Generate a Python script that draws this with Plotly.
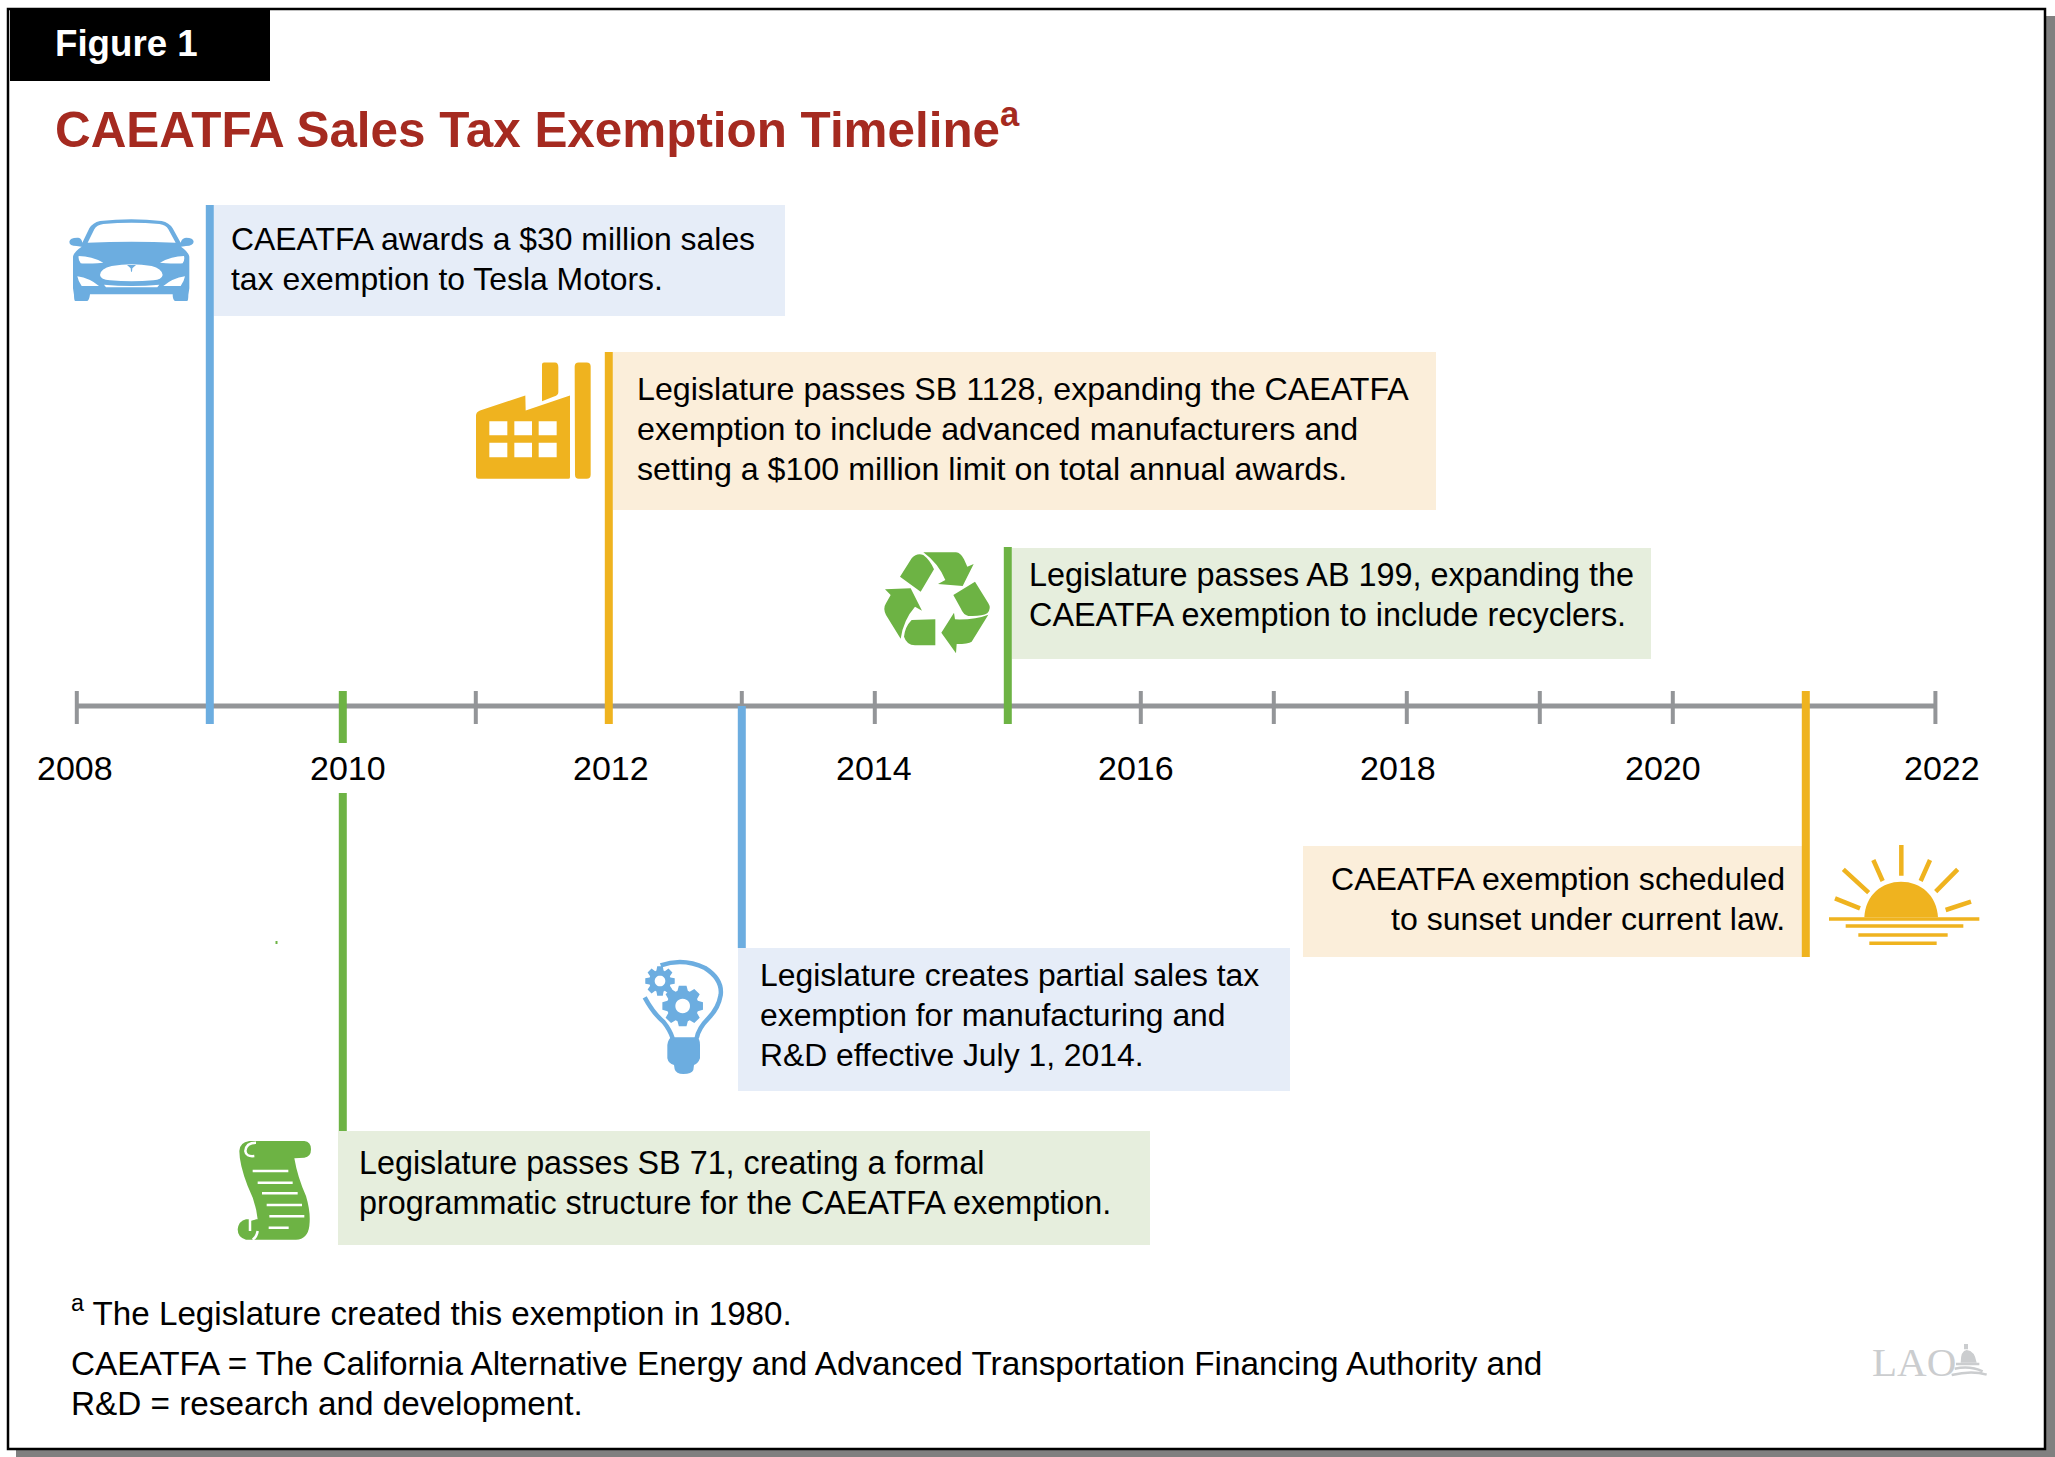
import math
import re
import plotly.graph_objects as go

# chart data
axis_years = [2008, 2009, 2010, 2011, 2012, 2013, 2014, 2015, 2016, 2017, 2018, 2019, 2020, 2021, 2022]
label_years = [2008, 2010, 2012, 2014, 2016, 2018, 2020, 2022]
event_years = [2009, 2010, 2012, 2013, 2015, 2021]
event_texts = [
    ["CAEATFA awards a $30 million sales", "tax exemption to Tesla Motors."],
    ["Legislature passes SB 71, creating a formal", "programmatic structure for the CAEATFA exemption."],
    ["Legislature passes SB 1128, expanding the CAEATFA", "exemption to include advanced manufacturers and",
     "setting a $100 million limit on total annual awards."],
    ["Legislature creates partial sales tax", "exemption for manufacturing and", "R&D effective July 1, 2014."],
    ["Legislature passes AB 199, expanding the", "CAEATFA exemption to include recyclers."],
    ["CAEATFA exemption scheduled", "to sunset under current law."],
]
figure_label = "Figure 1"
title_text = "CAEATFA Sales Tax Exemption Timeline<sup>a</sup>"
note_texts = [
    "<sup>a</sup> The Legislature created this exemption in 1980.",
    "CAEATFA = The California Alternative Energy and Advanced Transportation Financing Authority and",
    "R&D = research and development.",
]

W, H = 2055, 1457
X_2008, PER_YEAR = 76.8, 133.0
AXIS_Y = 706
LINE_STEP = 40
FONT = "Liberation Sans"
BLUE, ORANGE, GREEN = "#6CADE0", "#EFB31F", "#6DB344"
PALE_BLUE, PALE_ORANGE, PALE_GREEN = "#E6EDF8", "#FBEEDA", "#E6EEDD"
GREY = "#939598"
LOGO_GREY = "#CBCDCF"


def px(x):
    """Pixel column to the year axis."""
    return 2008 + (x - X_2008) / PER_YEAR


# colour, line segments, box (x0, y0, x1, y1), text anchor, text x, text centre y, font size
event_layout = [
    (BLUE, [(205, 724)], PALE_BLUE, (214, 205, 785, 316), "left", 231, 258.5, 31.9),
    (GREEN, [(691, 743), (793, 1131)], PALE_GREEN, (338, 1131, 1150, 1245), "left", 359, 1183, 32.35),
    (ORANGE, [(352, 724)], PALE_ORANGE, (613, 352, 1436, 510), "left", 637, 428.5, 32.2),
    (BLUE, [(706, 948)], PALE_BLUE, (738, 948, 1290, 1091), "left", 760, 1014.5, 31.85),
    (GREEN, [(547, 724)], PALE_GREEN, (1012, 548, 1651, 659), "left", 1029, 595, 32.4),
    (ORANGE, [(691, 957)], PALE_ORANGE, (1303, 846, 1802, 957), "right", 1785, 898.5, 32.1),
]
label_shift = [-1.8, 5, 2.5, -1, -5, -8.5, -9.5, 3.5]
tick_nudge = {2022: -3.4}


def place(path, ox, oy, k=1 / 3):
    """Move an icon drawn in 3x crop units to its spot on the page."""
    count = [0]

    def repl(m):
        v = float(m.group())
        i = count[0]
        count[0] += 1
        if i % 2 == 0:
            return f"{px(ox + v * k):.5f}"
        return f"{oy + v * k:.2f}"

    return re.sub(r"-?\d+\.?\d*", repl, path)


def gear(cx, cy, r_out, r_in, hole, teeth):
    pts = []
    step = 2 * math.pi / teeth
    for i in range(teeth):
        a = i * step
        for da, r in [(-0.30, r_in), (-0.17, r_out), (0.17, r_out), (0.30, r_in)]:
            pts.append((cx + r * math.cos(a + da * step * 1.4), cy + r * math.sin(a + da * step * 1.4)))
    d = "M " + " L ".join(f"{x:.1f} {y:.1f}" for x, y in pts) + " Z "
    ring = [(cx + hole * math.cos(i * math.pi / 12), cy + hole * math.sin(i * math.pi / 12)) for i in range(24)]
    d += "M " + " L ".join(f"{x:.1f} {y:.1f}" for x, y in ring) + " Z"
    return d


CAR = (
    "M 75 303 Q 72 300 72 285 L 69 265 L 69 170 Q 72 155 95 140 L 80 138 Q 58 138 58 125 Q 60 112 85 113 "
    "Q 95 115 97 128 L 118 85 Q 128 68 150 63 Q 245 53 335 63 Q 358 68 368 85 L 392 128 Q 395 115 408 113 "
    "Q 430 113 431 125 Q 430 137 408 138 L 393 140 Q 415 155 418 170 L 418 265 L 415 285 Q 415 300 412 303 "
    "L 375 303 Q 368 300 368 283 L 120 283 Q 118 300 112 303 Z "
    "M 113 128 L 133 88 Q 140 75 160 72 Q 245 65 328 72 Q 348 75 355 88 L 377 128 Q 245 122 113 128 Z "
    "M 86 168 Q 125 168 160 188 Q 105 192 92 190 Q 84 180 86 168 Z "
    "M 402 168 Q 365 168 330 188 Q 385 192 398 190 Q 405 180 402 168 Z "
    "M 150 225 Q 152 205 185 198 Q 245 188 305 198 Q 335 205 338 225 Q 335 240 310 241 Q 245 247 180 241 Q 152 240 150 225 Z "
    "M 231 195 L 258 195 L 247 205 L 246 215 L 243 215 L 242 205 Z "
    "M 82 229 Q 120 235 147 258 L 95 258 Q 85 245 82 229 Z "
    "M 405 229 Q 367 235 340 258 L 392 258 Q 402 245 405 229 Z "
    "M 162 254 Q 245 262 328 254 L 322 262 L 168 262 Z"
)
FACTORY = (
    "M 48 195 Q 48 185 60 180 L 196 135 L 197 180 L 330 135 L 330 380 Q 330 385 325 385 L 55 385 Q 48 385 48 378 Z "
    "M 88 212 L 142 212 L 142 254 L 88 254 Z M 163 212 L 216 212 L 216 254 L 163 254 Z M 236 212 L 290 212 L 290 254 L 236 254 Z "
    "M 88 277 L 142 277 L 142 320 L 88 320 Z M 163 277 L 216 277 L 216 320 L 163 320 Z M 236 277 L 290 277 L 290 320 L 236 320 Z "
    "M 246 42 Q 246 36 252 36 L 285 36 Q 295 36 295 50 L 295 125 Q 295 135 280 139 L 246 152 Z "
    "M 344 48 Q 344 36 356 36 L 380 36 Q 392 36 392 48 L 392 372 Q 392 385 380 385 L 356 385 Q 345 385 345 372 Z"
)
RECYCLE = (
    "M 90 110 L 125 55 Q 140 38 160 45 Q 180 60 192 88 L 152 155 Z "
    "M 160 37 L 258 37 Q 272 38 282 58 L 292 80 L 311 72 L 278 138 L 204 132 L 226 120 Q 205 70 160 37 Z "
    "M 250 165 L 315 125 L 355 190 Q 365 205 352 220 Q 335 230 295 228 Q 280 225 272 205 Z "
    "M 355 224 L 305 305 Q 295 312 260 312 L 258 340 L 214 278 L 252 218 L 255 238 Q 315 240 355 224 Z "
    "M 196 238 L 196 316 L 135 316 Q 110 315 102 290 Q 105 260 125 240 Z "
    "M 92 296 L 48 225 Q 38 205 48 190 L 62 165 L 45 148 L 122 145 L 156 212 L 135 200 Q 100 240 92 296 Z"
)
BULB_BASE = (
    "M 112 285 Q 115 265 125 262 L 200 262 Q 210 265 210 285 L 210 325 Q 205 340 192 345 L 190 360 "
    "Q 185 372 160 372 Q 138 372 134 358 L 132 345 Q 115 340 112 325 Z"
)
BULB_GLASS = (
    "M 92 46 Q 160 22 225 54 Q 278 88 272 135 Q 265 175 235 205 Q 205 235 200 265 "
    "M 44 142 Q 70 190 100 215 Q 120 240 128 265"
)
SCROLL = (
    "M 40 60 Q 40 35 70 30 L 235 30 Q 255 32 255 55 Q 255 78 235 80 L 205 82 Q 215 140 240 195 "
    "Q 255 245 250 285 Q 245 325 210 326 L 60 326 Q 35 320 35 295 Q 38 270 60 265 L 95 265 "
    "Q 90 215 65 165 Q 40 100 40 60 Z"
)
SCROLL_CUTS = (
    "M 80 120 L 187 120 M 95 155 L 200 155 M 108 187 L 215 187 M 122 222 L 228 222 M 130 256 L 235 256 M 128 290 L 188 290 "
    "M 90 35 Q 60 35 58 60 Q 60 78 85 75 M 88 262 L 72 266 L 72 300 M 95 300 Q 92 318 80 326"
)
SUN_DISC = "M 133 262 C 136 195 185 155 243 155 C 302 155 350 195 354 262 Z"
SUN_RAYS = (
    "M 244 45 L 244 137 M 160 90 L 188 153 M 70 118 L 146 188 M 45 205 L 120 235 "
    "M 330 90 L 302 153 M 413 118 L 347 185 M 453 215 L 377 240"
)
SUN_WATER = "M 27 267 L 478 267 M 77 288 L 430 288 M 115 315 L 383 315 M 148 340 L 350 340"
DOME = "M 342 72 L 354 72 L 354 88 L 342 88 Z M 332 128 Q 332 92 350 90 Q 374 92 380 128 Z"
DOME_LINES = "M 305 165 Q 365 150 410 164 M 314 146 Q 360 136 398 154 M 318 132 L 388 132"

shapes = []


def rect(x0, y0, x1, y1, fill, line_color=None, line_width=0):
    shapes.append(dict(type="rect", xref="x", yref="y", x0=px(x0), x1=px(x1), y0=y0, y1=y1,
                       fillcolor=fill, layer="below",
                       line=dict(color=line_color or fill, width=line_width)))


def icon(path, ox, oy, color):
    shapes.append(dict(type="path", xref="x", yref="y", path=place(path, ox, oy), fillcolor=color,
                       fillrule="evenodd", line=dict(width=0)))


def strokes(path, ox, oy, color, width):
    shapes.append(dict(type="path", xref="x", yref="y", path=place(path, ox, oy),
                       line=dict(color=color, width=width)))


# page frame with drop shadow
rect(16, 16, W, H, "#808080")
rect(8, 9, 2045, 1449, "white", "black", 2.5)
rect(10, 9, 270, 81, "black")

fig = go.Figure()

# time line
axis_x = [year + tick_nudge.get(year, 0) / PER_YEAR for year in axis_years]
fig.add_trace(go.Scatter(x=[axis_x[0], axis_x[-1]], y=[AXIS_Y, AXIS_Y], mode="lines",
                         line=dict(color=GREY, width=5), hoverinfo="skip"))
tick_x, tick_y = [], []
for x in axis_x:
    tick_x += [x, x, None]
    tick_y += [691, 724, None]
fig.add_trace(go.Scatter(x=tick_x, y=tick_y, mode="lines", line=dict(color=GREY, width=4), hoverinfo="skip"))

annotations = []


def add_text(text, x, y, size, color="black", anchor="left", bold=False, family=FONT):
    annotations.append(dict(text=f"<b>{text}</b>" if bold else text, x=px(x), y=y, xref="x", yref="y",
                            xanchor=anchor, yanchor="middle", align=anchor, showarrow=False,
                            borderpad=0, borderwidth=0, font=dict(family=family, size=size, color=color)))


# events
for year, lines, (color, segments, fill, box, anchor, text_x, text_y, size) in zip(event_years, event_texts, event_layout):
    rect(box[0], box[1], box[2], box[3], fill)
    for top, bottom in segments:
        fig.add_trace(go.Scatter(x=[year, year], y=[top, bottom], mode="lines",
                                 line=dict(color=color, width=8), hoverinfo="skip"))
    for i, line in enumerate(lines):
        add_text(line, text_x, text_y + (i - (len(lines) - 1) / 2) * LINE_STEP, size, anchor=anchor)

# year labels
for year, shift in zip(label_years, label_shift):
    annotations.append(dict(text=str(year), x=year, y=768, xref="x", yref="y", xshift=shift,
                            xanchor="center", yanchor="middle", showarrow=False,
                            borderpad=0, borderwidth=0, font=dict(family=FONT, size=34, color="black")))

add_text(figure_label, 55, 43, 36.7, color="white", bold=True)
add_text(title_text, 55, 126, 49.4, color="#A52A20", bold=True)
add_text(note_texts[0], 71, 1311, 33.2)
add_text(note_texts[1], 71, 1363, 33.3)
add_text(note_texts[2], 71, 1403, 33.3)
add_text("LAO", 1872, 1362, 41, color=LOGO_GREY, family="Liberation Serif")

# small speck left in the original artwork
rect(275.5, 941, 277.5, 944, GREEN)

# icons
icon(CAR, 50, 200, BLUE)
icon(FACTORY, 460, 350.5, ORANGE)
icon(RECYCLE, 870, 540, GREEN)
icon(BULB_BASE, 630, 950, BLUE)
strokes(BULB_GLASS, 630, 950, BLUE, 4.5)
icon(gear(158, 168, 62, 48, 22, 8), 630, 950, BLUE)
icon(gear(90, 93, 45, 33, 16, 8), 630, 950, BLUE)
icon(SCROLL, 226, 1131, GREEN)
strokes(SCROLL_CUTS, 226, 1131, "white", 2.5)
icon(SUN_DISC, 1820, 830, ORANGE)
strokes(SUN_RAYS, 1820, 830, ORANGE, 4.5)
strokes(SUN_WATER, 1820, 830, ORANGE, 3.5)
icon(DOME, 1850, 1320, LOGO_GREY)
strokes(DOME_LINES, 1850, 1320, LOGO_GREY, 2.5)

fig.update_layout(
    width=W,
    height=H,
    margin=dict(l=0, r=0, t=0, b=0),
    showlegend=False,
    paper_bgcolor="white",
    plot_bgcolor="white",
    shapes=shapes,
    annotations=annotations,
    xaxis=dict(range=[px(0), px(W)], visible=False, fixedrange=True),
    yaxis=dict(range=[H, 0], visible=False, fixedrange=True),
)

fig.write_html("out.html", config={"displayModeBar": False}, post_script="document.body.style.margin='0';")
